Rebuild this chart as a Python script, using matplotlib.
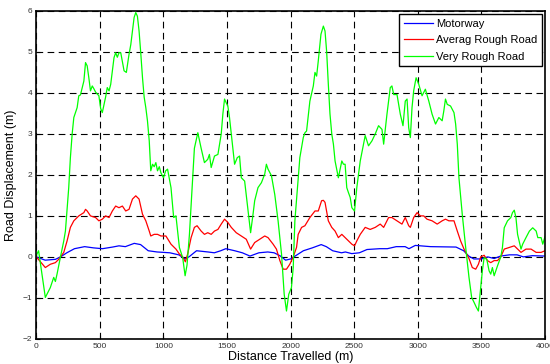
import numpy as np
import matplotlib
matplotlib.use("Agg")
import matplotlib.pyplot as plt

plt.rcParams["font.family"] = ["Liberation Sans Narrow", "Liberation Sans", "DejaVu Sans"]

# Motorway (blue)
motor_x = [0, 70, 150, 190, 240, 300, 380, 450, 520, 600, 650, 700, 770, 820, 880,
           950, 1050, 1120, 1170, 1200, 1260, 1350, 1400, 1450, 1490, 1560, 1620, 1680,
           1750, 1820, 1870, 1920, 1960, 2000, 2050, 2100, 2170, 2240, 2280, 2330, 2400,
           2430, 2480, 2540, 2600, 2700, 2760, 2830, 2900, 2930, 2980, 3100, 3300, 3360,
           3400, 3440, 3500, 3550, 3600, 3650, 3720, 3780, 3830, 3900, 4000]
motor_y = [0, -0.08, -0.06, 0, 0.1, 0.2, 0.25, 0.22, 0.2, 0.24, 0.27, 0.25, 0.33, 0.3, 0.15,
           0.12, 0.1, 0.05, -0.05, 0, 0.15, 0.12, 0.1, 0.15, 0.2, 0.15, 0.1, 0.02,
           0.1, 0.12, 0.1, 0.02, -0.08, -0.05, 0.05, 0.15, 0.22, 0.3, 0.25, 0.15, 0.1,
           0.12, 0.08, 0.1, 0.18, 0.2, 0.2, 0.25, 0.25, 0.2, 0.28, 0.25, 0.24, 0.15,
           0.02, -0.05, -0.05, 0, -0.04, 0.02, 0.05, 0.05, 0.0, 0.03, 0.02]

# Averag Rough Road (red)
avg_x = [0, 71, 110, 150, 176, 190, 216, 242, 268, 295, 334, 374, 387, 400, 426, 466, 492,
         519, 545, 572, 598, 624, 650, 677, 703, 729, 756, 782, 808, 835, 861, 888, 900,
         927, 953, 980, 1019, 1059, 1098, 1125, 1151, 1172, 1190, 1217, 1243, 1264, 1296,
         1322, 1348, 1375, 1401, 1428, 1454, 1480, 1506, 1533, 1572, 1612, 1651, 1685,
         1717, 1756, 1796, 1822, 1862, 1888, 1915, 1941, 1967, 1993, 2020, 2046, 2059,
         2086, 2112, 2151, 2191, 2217, 2243, 2257, 2270, 2296, 2323, 2349, 2375, 2402,
         2428, 2454, 2481, 2502, 2520, 2547, 2586, 2625, 2665, 2704, 2731, 2770, 2796,
         2836, 2875, 2901, 2928, 2941, 2967, 2994, 3020, 3046, 3072, 3112, 3152, 3191,
         3217, 3244, 3284, 3310, 3336, 3363, 3402, 3428, 3455, 3476, 3494, 3521, 3547,
         3573, 3600, 3626, 3652, 3679, 3718, 3758, 3784, 3811, 3850, 3890, 3930, 3969, 4000]
avg_y = [0, -0.26, -0.18, -0.14, -0.06, 0, 0.11, 0.39, 0.72, 0.88, 1.0, 1.08, 1.16, 1.12,
         1.0, 0.96, 0.88, 0.92, 1.0, 0.96, 1.12, 1.24, 1.2, 1.24, 1.12, 1.16, 1.41, 1.49,
         1.41, 1.04, 0.88, 0.63, 0.51, 0.55, 0.55, 0.51, 0.51, 0.31, 0.19, 0.07, 0, -0.12,
         0.07, 0.47, 0.72, 0.76, 0.63, 0.55, 0.59, 0.55, 0.63, 0.67, 0.8, 0.92, 0.84, 0.72,
         0.59, 0.51, 0.43, 0.19, 0.35, 0.43, 0.51, 0.47, 0.31, 0.19, -0.09, -0.3, -0.3,
         -0.18, 0, 0.23, 0.55, 0.72, 0.76, 0.96, 1.12, 1.12, 1.37, 1.38, 1.33, 0.88, 0.72,
         0.63, 0.47, 0.55, 0.47, 0.39, 0.31, 0.27, 0.39, 0.55, 0.72, 0.67, 0.72, 0.8, 0.72,
         0.96, 0.96, 0.88, 0.8, 0.96, 0.76, 0.72, 0.96, 1.08, 1.0, 1.0, 0.92, 0.88, 0.8,
         0.88, 0.92, 0.88, 0.88, 0.63, 0.39, 0.19, -0.04, -0.26, -0.3, -0.18, 0, 0.04,
         -0.09, -0.14, -0.09, -0.09, 0, 0.19, 0.23, 0.27, 0.19, 0.11, 0.19, 0.19, 0.11,
         0.11, 0.15]

# Very Rough Road (green)
very_x = [0, 5, 18, 71, 110, 137, 150, 163, 190, 216, 229, 255, 268, 282, 295, 321, 334,
          347, 361, 374, 387, 400, 413, 426, 440, 453, 466, 492, 506, 519, 545, 558, 572,
          585, 611, 624, 637, 650, 664, 690, 708, 729, 743, 769, 782, 795, 808, 822, 835,
          848, 861, 874, 888, 900, 914, 927, 940, 953, 967, 980, 1000, 1017, 1032, 1059,
          1080, 1098, 1125, 1151, 1170, 1185, 1204, 1230, 1243, 1270, 1296, 1322, 1348,
          1361, 1375, 1401, 1428, 1454, 1467, 1480, 1493, 1506, 1519, 1533, 1559, 1580,
          1598, 1612, 1638, 1659, 1685, 1704, 1717, 1743, 1770, 1796, 1809, 1822, 1849,
          1875, 1901, 1928, 1949, 1967, 1985, 2006, 2020, 2033, 2059, 2072, 2099, 2112,
          2125, 2151, 2178, 2191, 2204, 2217, 2238, 2257, 2270, 2283, 2296, 2309, 2323,
          2336, 2349, 2375, 2402, 2415, 2428, 2441, 2454, 2468, 2481, 2502, 2520, 2547,
          2573, 2586, 2612, 2639, 2665, 2691, 2718, 2731, 2757, 2783, 2796, 2810, 2836,
          2862, 2883, 2901, 2915, 2928, 2941, 2954, 2967, 2986, 3007, 3033, 3059, 3086,
          3112, 3139, 3165, 3191, 3204, 3217, 3231, 3257, 3284, 3297, 3310, 3323, 3349,
          3376, 3402, 3423, 3442, 3460, 3476, 3494, 3507, 3521, 3542, 3560, 3573, 3586,
          3600, 3626, 3652, 3665, 3679, 3705, 3731, 3744, 3758, 3771, 3784, 3811, 3824,
          3850, 3877, 3903, 3930, 3943, 3969, 3982, 4000]
very_y = [0, 0.07, 0.15, -0.99, -0.75, -0.5, -0.6, -0.42, 0, 0.39, 0.63, 1.69, 2.42, 3.0,
          3.4, 3.64, 3.93, 3.95, 4.13, 4.29, 4.74, 4.66, 4.37, 4.05, 4.17, 4.1, 4.02, 3.93,
          3.62, 3.52, 3.9, 4.13, 4.05, 4.21, 4.86, 4.98, 4.87, 4.98, 4.98, 4.54, 4.5, 4.94,
          5.18, 5.84, 5.96, 5.87, 5.51, 4.94, 4.37, 3.9, 3.64, 3.32, 2.83, 2.1, 2.26, 2.2,
          2.3, 2.1, 2.2, 2.05, 1.93, 2.1, 2.14, 1.69, 0.96, 1.0, 0.23, -0.02, -0.46, -0.2,
          0.55, 1.93, 2.65, 3.03, 2.65, 2.3, 2.38, 2.5, 2.18, 2.46, 2.5, 3.0, 3.49, 3.85,
          3.76, 3.68, 3.4, 3.0, 2.26, 2.42, 2.46, 1.93, 1.85, 1.28, 0.59, 1.04, 1.37, 1.69,
          1.81, 2.02, 2.26, 2.14, 1.98, 1.52, 0.88, 0.07, -0.91, -1.32, -0.91, -0.75,
          -0.26, 0.88, 1.93, 2.42, 2.91, 3.03, 3.07, 3.8, 4.17, 4.5, 4.41, 4.78, 5.43, 5.63,
          5.51, 5.0, 4.21, 3.49, 3.0, 2.75, 2.34, 1.93, 2.34, 2.26, 2.26, 1.69, 1.57, 1.45,
          1.2, 1.12, 1.69, 2.34, 2.75, 2.96, 2.71, 2.83, 3.0, 3.2, 3.11, 2.75, 3.48, 4.13,
          4.17, 3.96, 3.96, 3.48, 3.2, 3.8, 3.85, 3.15, 2.91, 3.64, 4.05, 4.37, 4.21, 3.93,
          4.09, 3.8, 3.48, 3.24, 3.4, 3.32, 3.56, 3.85, 3.72, 3.68, 3.52, 3.24, 2.75, 1.93,
          1.04, 0.23, -0.5, -0.99, -1.11, -1.23, -1.32, -0.75, -0.34, -0.02, -0.06, -0.34,
          -0.42, -0.26, -0.46, -0.22, 0.0, 0.23, 0.71, 0.88, 0.96, 1.08, 1.14, 0.96, 0.55,
          0.19, 0.31, 0.47, 0.63, 0.71, 0.63, 0.47, 0.47, 0.31, 0.5]

x_ticks = [0, 500, 1000, 1500, 2000, 2500, 3000, 3500, 4000]
y_ticks = [-2, -1, 0, 1, 2, 3, 4, 5, 6]

fig = plt.figure(figsize=(5.5, 3.64), dpi=100)
ax = fig.add_axes([0.066, 0.069, 0.925, 0.901])

ax.plot(motor_x, motor_y, color="#0000ff", lw=0.9, label="Motorway")
ax.plot(avg_x, avg_y, color="#ff0000", lw=0.9, label="Averag Rough Road")
ax.plot(very_x, very_y, color="#00ff00", lw=0.9, label="Very Rough Road")

ax.set_xlim(0, 4000)
ax.set_ylim(-2, 6)
ax.set_xticks(x_ticks)
ax.set_yticks(y_ticks)
ax.tick_params(direction="in", labelsize=6, labelcolor="#333333", length=3, width=0.8, pad=3)
ax.grid(True, color="black", linestyle=(0, (6, 4)), linewidth=0.8)
for s in ax.spines.values():
    s.set_linewidth(1.2)

ax.set_xlabel("Distance Travelled (m)", fontsize=9, labelpad=1)
ax.set_ylabel("Road Displacement (m)", fontsize=9, labelpad=4)

leg = ax.legend(loc="upper right", fontsize=8, fancybox=False, framealpha=1,
                edgecolor="black", borderpad=0.4, labelspacing=0.6, handlelength=2.6,
                handletextpad=0.3, borderaxespad=0.3)
leg.get_frame().set_linewidth(1.0)

fig.savefig("out.png", dpi=100)
